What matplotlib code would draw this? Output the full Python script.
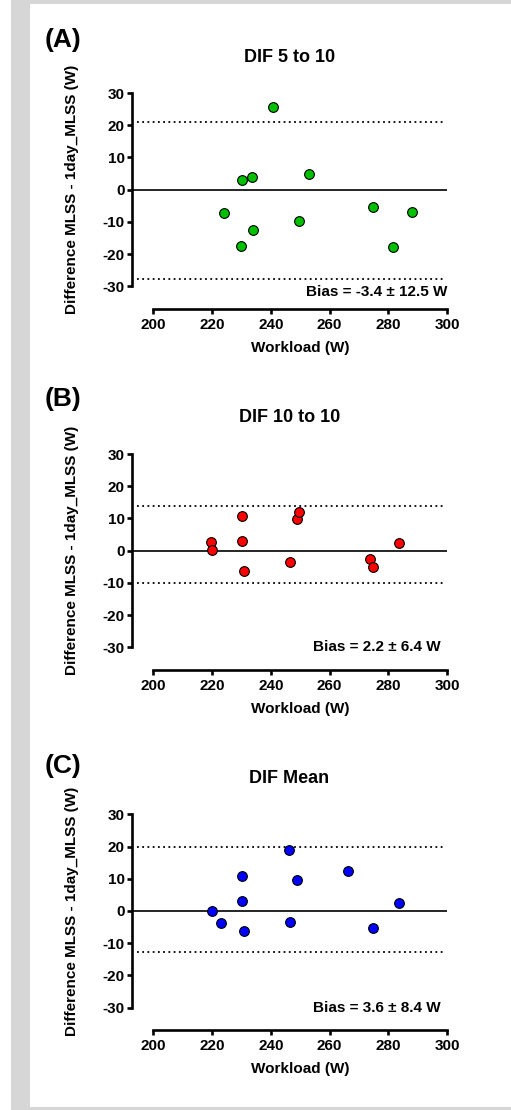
"""Bland-Altman style panels (A)-(C): MLSS difference vs workload."""

import matplotlib.pyplot as plt
from matplotlib.patches import Rectangle

W, H = 511, 1110

panel_letters = ["(A)", "(B)", "(C)"]
titles = ["DIF 5 to 10", "DIF 10 to 10", "DIF Mean"]
colors = ["#00c000", "#ff0000", "#0000ff"]
bias_labels = ["Bias = -3.4 \u00b1 12.5 W", "Bias = 2.2 \u00b1 6.4 W", "Bias = 3.6 \u00b1 8.4 W"]

workload_a = [240.7, 230.0, 233.6, 253.1, 223.9, 233.8, 229.7, 249.5, 274.7, 288.2, 281.5]
diff_a = [25.7, 3.1, 3.9, 5.0, -7.3, -12.4, -17.4, -9.6, -5.3, -6.8, -17.7]
loa_a = [20.9, -27.9]

workload_b = [219.5, 220.0, 230.1, 230.1, 230.7, 246.5, 248.8, 249.5, 273.8, 274.7, 283.5]
diff_b = [2.8, 0.1, 10.8, 3.1, -6.3, -3.5, 9.7, 12.0, -2.6, -5.2, 2.5]
loa_b = [14.0, -10.1]

workload_c = [220.1, 223.0, 230.2, 230.2, 230.8, 246.1, 246.5, 248.8, 266.4, 274.7, 283.5]
diff_c = [0.1, -3.8, 10.8, 3.1, -6.3, 19.0, -3.5, 9.7, 12.4, -5.2, 2.5]
loa_c = [19.9, -12.9]

x_ticks = [200, 220, 240, 260, 280, 300]
y_ticks = [-30, -20, -10, 0, 10, 20, 30]

# pixel layout (top-left origin) of each panel
axes_top = [89.8, 450.8, 811.1]
axes_bottom = [308.8, 669.8, 1030.1]
letter_base = [47, 406, 773]
title_base = [61.7, 422.3, 782.7]
bias_pos = [(447.7, 296), (440.7, 651), (440.7, 1011.7)]


def fx(px):
    return px / W


def fy(py):
    return 1 - py / H


def main():
    plt.rcParams["font.family"] = ["Liberation Sans", "DejaVu Sans"]
    plt.rcParams["font.weight"] = "bold"
    plt.rcParams["axes.unicode_minus"] = False

    fig = plt.figure(figsize=(W / 100, H / 100), dpi=100)
    fig.patch.set_facecolor("white")

    grey = "#d6d6d6"
    for x0, y0, w, h in [(11, 0, 19, H), (11, 0, W - 11, 4), (11, 1107, W - 11, 3)]:
        fig.patches.append(Rectangle((fx(x0), fy(y0 + h)), w / W, h / H,
                                     transform=fig.transFigure, color=grey, lw=0))

    data = [(workload_a, diff_a, loa_a), (workload_b, diff_b, loa_b), (workload_c, diff_c, loa_c)]
    for i, (xs, ys, loa) in enumerate(data):
        left, right = 132, 447
        ax = fig.add_axes([fx(left), fy(axes_bottom[i]), (right - left) / W,
                           (axes_bottom[i] - axes_top[i]) / H])
        ax.set_xlim(192.7, 300)
        ax.set_ylim(-37, 31)

        ax.axhline(0, color="black", lw=1.2, zorder=2)
        ax.hlines(loa, 194.5, 298.5, colors="black", lw=1.3,
                  linestyles=(0, (1, 1.9)), zorder=2)
        ax.plot(xs, ys, "o", ms=7, mfc=colors[i], mec="black", mew=0.8,
                zorder=3, clip_on=False)

        for side in ["top", "right"]:
            ax.spines[side].set_visible(False)
        ax.spines["left"].set_bounds(-30, 30)
        ax.spines["bottom"].set_bounds(200, 300)
        for side in ["left", "bottom"]:
            ax.spines[side].set_linewidth(1.9)
            ax.spines[side].set_capstyle("projecting")

        ax.set_xticks(x_ticks)
        ax.set_yticks(y_ticks)
        ax.tick_params(direction="out", length=3.6, width=1.9, labelsize=11)
        ax.tick_params(axis="y", pad=1.5)
        ax.tick_params(axis="x", pad=3)
        ax.patch.set_alpha(0)

        fig.text(fx(45), fy(letter_base[i]), panel_letters[i], fontsize=19,
                 fontweight="bold", va="baseline", ha="left")
        fig.text(fx(289.5), fy(title_base[i]), titles[i], fontsize=13,
                 fontweight="bold", va="baseline", ha="center")
        zero_py = axes_top[i] + 31 * (axes_bottom[i] - axes_top[i]) / 68
        fig.text(fx(72), fy(zero_py), "Difference MLSS - 1day_MLSS (W)",
                 fontsize=11, fontweight="bold", rotation=90, va="center", ha="center")
        fig.text(fx(300.5), fy(axes_bottom[i] + 43), "Workload (W)", fontsize=11,
                 fontweight="bold", va="baseline", ha="center")
        bx, by = bias_pos[i]
        fig.text(fx(bx), fy(by), bias_labels[i], fontsize=11, fontweight="bold",
                 va="baseline", ha="right")

    fig.savefig("out.png", dpi=100)
    plt.close(fig)


if __name__ == "__main__":
    main()
